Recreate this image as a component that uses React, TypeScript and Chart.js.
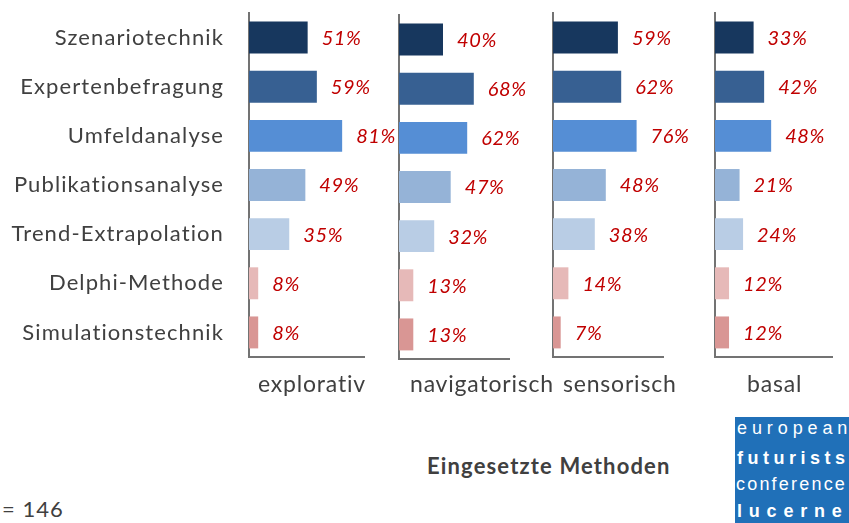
import React, { useEffect, useRef } from "react";
import { Chart, registerables } from "chart.js";

Chart.register(...registerables);

const categories = [
  "Szenariotechnik",
  "Expertenbefragung",
  "Umfeldanalyse",
  "Publikationsanalyse",
  "Trend-Extrapolation",
  "Delphi-Methode",
  "Simulationstechnik",
];

const panelNames = ["explorativ", "navigatorisch", "sensorisch", "basal"];

const explorativ = [51, 59, 81, 49, 35, 8, 8];
const navigatorisch = [40, 68, 62, 47, 32, 13, 13];
const sensorisch = [59, 62, 76, 48, 38, 14, 7];
const basal = [33, 42, 48, 21, 24, 12, 12];

const barColors = ["#17375E", "#376092", "#558ED5", "#95B3D7", "#B9CDE5", "#E6B9B8", "#D99694"];

const FONT = "Lato, 'Open Sans', sans-serif";
const CANVAS_W = 849;
const CANVAS_H = 372;

const panels = [
  { name: panelNames[0], values: explorativ, left: 249, right: 364, top: 13, bottom: 357, labels: true },
  { name: panelNames[1], values: navigatorisch, left: 399, right: 509, top: 15, bottom: 359, labels: false },
  { name: panelNames[2], values: sensorisch, left: 553, right: 663, top: 13, bottom: 357, labels: false },
  { name: panelNames[3], values: basal, left: 715, right: 832, top: 13, bottom: 357, labels: false },
];

const spacingPlugin = {
  id: "spacing",
  beforeDraw(chart: any) {
    (chart.ctx as any).letterSpacing = "1.1px";
  },
};

const valueLabelPlugin = {
  id: "valueLabels",
  afterDatasetsDraw(chart: any) {
    const ctx = chart.ctx;
    const meta = chart.getDatasetMeta(0);
    const data = chart.data.datasets[0].data;
    ctx.save();
    (ctx as any).letterSpacing = "0.6px";
    ctx.font = `italic 20px ${FONT}`;
    ctx.fillStyle = "#C00000";
    ctx.textAlign = "left";
    ctx.textBaseline = "middle";
    meta.data.forEach((bar: any, i: number) => {
      ctx.fillText(`${data[i]}%`, bar.x + 14, bar.y + 1);
    });
    ctx.restore();
  },
};

function Panel({ p }: { p: (typeof panels)[number] }) {
  const ref = useRef<HTMLCanvasElement | null>(null);
  useEffect(() => {
    if (!ref.current) return;
    const chart = new Chart(ref.current, {
      type: "bar",
      data: {
        labels: categories,
        datasets: [
          {
            data: p.values,
            backgroundColor: barColors,
            borderWidth: 0,
            barPercentage: 0.65,
            categoryPercentage: 1,
          },
        ],
      },
      options: {
        indexAxis: "y",
        responsive: false,
        animation: false,
        events: [],
        layout: { padding: { top: p.top, right: CANVAS_W - p.right, bottom: 0, left: 0 } },
        plugins: { legend: { display: false }, tooltip: { enabled: false }, title: { display: false } },
        scales: {
          x: {
            min: 0,
            max: 100,
            grid: { display: false, drawTicks: false },
            border: { display: true, color: "#737373", width: 2 },
            ticks: { display: false },
            afterFit: (s: any) => {
              s.height = CANVAS_H - p.bottom;
              s.paddingLeft = 0;
              s.paddingRight = 0;
            },
          },
          y: {
            grid: { display: false, drawTicks: false },
            border: { display: true, color: "#737373", width: 2 },
            ticks: {
              display: p.labels,
              padding: 25,
              color: "#404040",
              font: { family: FONT, size: 22 },
            },
            afterFit: (s: any) => {
              s.width = p.left;
              s.paddingTop = 0;
              s.paddingBottom = 0;
            },
          },
        },
      },
      plugins: p.labels ? [spacingPlugin, valueLabelPlugin] : [valueLabelPlugin],
    });
    return () => chart.destroy();
  }, []);
  return (
    <canvas
      ref={ref}
      width={CANVAS_W}
      height={CANVAS_H}
      style={{ position: "absolute", left: 0, top: 0, width: CANVAS_W, height: CANVAS_H }}
    />
  );
}

const titleX = [258, 410, 563, 747];

export default function App() {
  return (
    <div
      style={{
        position: "absolute",
        left: 0,
        top: 0,
        width: 849,
        height: 523,
        overflow: "hidden",
        background: "#fff",
        fontFamily: FONT,
        color: "#404040",
      }}
    >
      {panels.map((p) => (
        <Panel key={p.name} p={p} />
      ))}
      {panels.map((p, i) => (
        <div
          key={"t" + p.name}
          style={{
            position: "absolute",
            left: titleX[i],
            top: 368,
            fontSize: 23,
            letterSpacing: 0.8,
            lineHeight: "30px",
            whiteSpace: "nowrap",
          }}
        >
          {p.name}
        </div>
      ))}
      <div
        style={{
          position: "absolute",
          left: 427,
          top: 452,
          fontSize: 22,
          fontWeight: 700,
          letterSpacing: 1.15,
          lineHeight: "28px",
          whiteSpace: "nowrap",
        }}
      >
        Eingesetzte Methoden
      </div>
      <div
        style={{ position: "absolute", left: 2, top: 495, fontSize: 22, letterSpacing: 1, lineHeight: "28px", whiteSpace: "nowrap" }}
      >
        = 146
      </div>
      <div
        style={{
          position: "absolute",
          left: 735,
          top: 417,
          width: 120,
          height: 110,
          background: "#2070B8",
          color: "#fff",
          fontFamily: "'Liberation Sans', Arial, sans-serif",
          fontSize: 18,
          lineHeight: "21px",
          whiteSpace: "nowrap",
          overflow: "hidden",
        }}
      >
        <div style={{ position: "absolute", left: 2, top: 1, letterSpacing: 4.9 }}>european</div>
        <div style={{ position: "absolute", left: 2, top: 31, fontWeight: 700, letterSpacing: 4.5 }}>futurists</div>
        <div style={{ position: "absolute", left: 1, top: 57, letterSpacing: 2.2 }}>conference</div>
        <div style={{ position: "absolute", left: 2, top: 84, fontWeight: 700, letterSpacing: 6.8 }}>lucerne</div>
      </div>
    </div>
  );
}
